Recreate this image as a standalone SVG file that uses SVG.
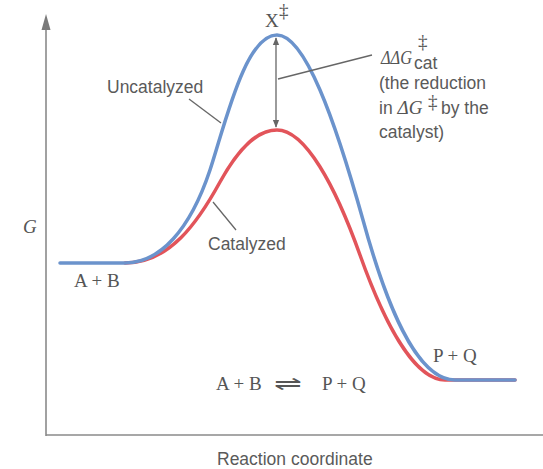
<svg xmlns="http://www.w3.org/2000/svg" width="543" height="469" viewBox="0 0 543 469">
<defs>
<style>
.sans{font-family:"Liberation Sans",Arial,sans-serif;font-size:17.5px;fill:#5a5a5a}
.serif{font-family:"Liberation Serif","Times New Roman",serif;font-size:19px;fill:#555}
.it{font-style:italic}
.axis{stroke:#8a8a8a;stroke-width:1.6;fill:none}
.lead{stroke:#666;stroke-width:1.3;fill:none}
.blue{stroke:#6b93cc;stroke-width:3.5;fill:none;stroke-linecap:round}
.red{stroke:#e2545a;stroke-width:3.5;fill:none;stroke-linecap:round}
</style>
<marker id="ah" viewBox="0 0 10 10" refX="9" refY="5" markerWidth="8" markerHeight="8" markerUnits="userSpaceOnUse" orient="auto-start-reverse">
<path d="M0,1 L10,5 L0,9 Z" fill="#666"/>
</marker>
</defs>
<rect width="543" height="469" fill="#fff"/>
<g id="axes">
<path class="axis" d="M46,28 V436"/>
<path d="M46,14 L50.5,30 L41.5,30 Z" fill="#7a7a7a"/>
<path class="axis" d="M46,435 H543"/>
</g>
<g id="curves">
<path id="catalyzed-curve" class="red" d="M125,263 C170,263 198,222 220,182 C240,146 258,130 277,130 C305,130 335,185 360,255 C385,325 415,380 445,380 L515,380"/>
<path id="uncatalyzed-curve" class="blue" d="M60,263 L125,263 C160,263 190,230 210,170 C225,125 245,35 277,35 C305,35 335,120 363,220 C385,300 415,380 455,380 L515,380"/>
</g>
<g id="connectors">
<path class="lead" d="M276,38 V127" marker-start="url(#ah)" marker-end="url(#ah)"/>
<path class="lead" d="M278,79 L372,55"/>
<path class="lead" d="M189,99 L221,123"/>
<path class="lead" d="M213,202 L236,230"/>
</g>
<g id="labels">
<text class="serif" x="265" y="27">X</text>
<text class="serif" x="279" y="17" font-size="14">‡</text>
<text class="serif it" x="381" y="64" font-size="17" textLength="31" lengthAdjust="spacingAndGlyphs">ΔΔG</text>
<text class="serif" x="418" y="48" font-size="13">‡</text>
<text class="sans" x="414" y="69" font-size="13">cat</text>
<text class="sans" x="379" y="89">(the reduction</text>
<text class="sans" x="379" y="114">in <tspan class="serif it" font-size="18">ΔG</tspan></text>
<text class="serif" x="428" y="108" font-size="12">‡</text>
<text class="sans" x="441" y="114">by the</text>
<text class="sans" x="379" y="138">catalyst)</text>
<text class="sans" x="107" y="93">Uncatalyzed</text>
<text class="sans" x="208" y="250">Catalyzed</text>
<text class="serif it" x="23" y="233">G</text>
<text class="serif" x="74" y="287">A + B</text>
<text class="serif" x="433" y="362">P + Q</text>
<text class="serif" x="216" y="390">A + B</text>
<text class="serif" x="0" y="0" font-family="DejaVu Sans" font-size="20" transform="translate(274,390) scale(1.75,1)">⇌</text>
<text class="serif" x="322" y="390">P + Q</text>
<text class="sans" x="217" y="465">Reaction coordinate</text>
</g>
</svg>
